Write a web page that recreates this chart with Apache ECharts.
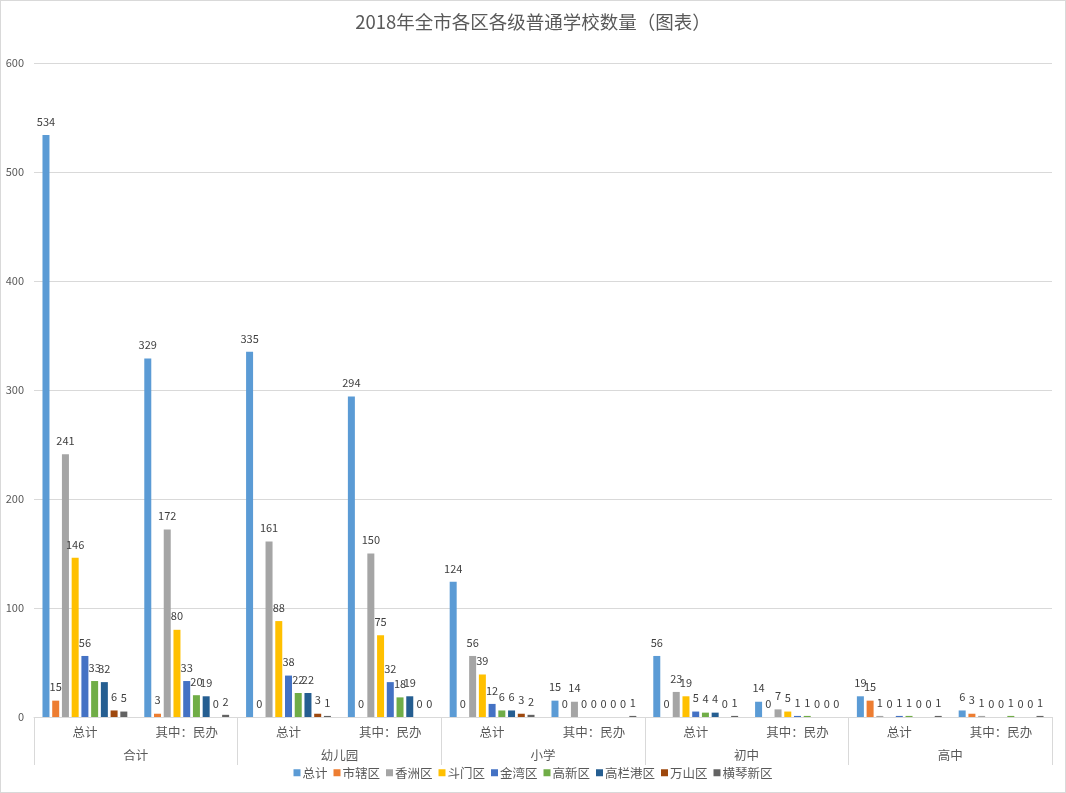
<!DOCTYPE html>
<html><head><meta charset="utf-8">
<script src="https://cdn.jsdelivr.net/npm/echarts@6/dist/echarts.min.js"></script>
<style>
html,body{margin:0;padding:0;background:#fff;}
#c{width:1066px;height:793px;box-sizing:border-box;border:1px solid #d9d9d9;}
</style></head><body>
<div id="c"></div>
<script>
var groups = ['合计','幼儿园','小学','初中','高中'];
var subCats = ['总计','其中：民办','总计','其中：民办','总计','其中：民办','总计','其中：民办','总计','其中：民办'];
var seriesNames = ['总计','市辖区','香洲区','斗门区','金湾区','高新区','高栏港区','万山区','横琴新区'];
var colors = ['#5B9BD5','#ED7D31','#A5A5A5','#FFC000','#4472C4','#70AD47','#255E91','#9E480E','#636363'];
var total    = [534,329,335,294,124,15,56,14,19,6];
var shixia   = [15,3,0,0,0,0,0,0,15,3];
var xiangzhou= [241,172,161,150,56,14,23,7,1,1];
var doumen   = [146,80,88,75,39,0,19,5,0,0];
var jinwan   = [56,33,38,32,12,0,5,1,1,0];
var gaoxin   = [33,20,22,18,6,0,4,1,1,1];
var gaolan   = [32,19,22,19,6,0,4,0,0,0];
var wanshan  = [6,0,3,0,3,0,0,0,0,0];
var hengqin  = [5,2,1,0,2,1,1,0,1,1];
var yTicks = [0,100,200,300,400,500,600];
var seriesData = [total,shixia,xiangzhou,doumen,jinwan,gaoxin,gaolan,wanshan,hengqin];

var font = '"Noto Sans CJK SC","Microsoft YaHei",sans-serif';
var chart = echarts.init(document.getElementById('c'));
chart.setOption({
  animation:false,
  color: colors,
  textStyle:{fontFamily:font},
  title:{text:'2018年全市各区各级普通学校数量（图表）',left:'center',top:7,
    textStyle:{fontSize:18.5,fontWeight:'normal',color:'#595959',fontFamily:font}},
  legend:{bottom:8,left:'center',itemWidth:7,itemHeight:7,itemGap:6,
    icon:'rect',textStyle:{fontSize:12.5,color:'#595959',padding:[0,0,0,-3]},data:seriesNames},
  grid:{left:33,right:13,top:62,bottom:75,containLabel:false},
  xAxis:[{
    type:'category',data:subCats,position:'bottom',
    axisLine:{lineStyle:{color:'#d9d9d9'}},
    axisTick:{show:false},
    axisLabel:{color:'#595959',fontSize:12.5,margin:9,interval:0}
  },{
    type:'category',data:groups,position:'bottom',gridIndex:0,
    axisLine:{show:false},
    axisTick:{show:true,length:48,lineStyle:{color:'#d9d9d9'}},
    axisLabel:{color:'#595959',fontSize:12.5,margin:32,interval:0}
  }],
  yAxis:{type:'value',min:0,max:600,interval:100,
    axisLine:{show:false},axisTick:{show:false},
    splitLine:{lineStyle:{color:'#d9d9d9'}},
    axisLabel:{color:'#595959',fontSize:11,margin:10}},
  series: seriesNames.map(function(n,i){
    return {name:n,type:'bar',xAxisIndex:0,data:seriesData[i],barWidth:7,barGap:'39%',
      label:{show:true,position:'top',distance:8,fontSize:11,color:'#404040'}};
  })
});
</script>
</body></html>
